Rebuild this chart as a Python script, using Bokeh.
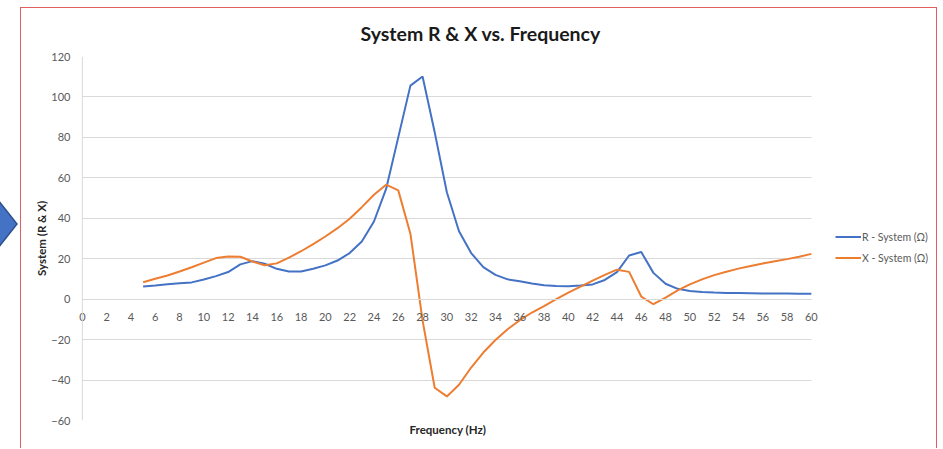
from bokeh.plotting import figure
from bokeh.models import (Range1d, FixedTicker, Legend, LegendItem, Title, Span,
                          Div, Grid, Row)
from bokeh.embed import file_html
from bokeh.resources import INLINE

# ---- data ----
freq = [5, 6, 7, 8, 9, 10, 11, 12, 13, 14, 15, 16, 17, 18, 19, 20, 21, 22, 23, 24,
        25, 26, 27, 28, 29, 30, 31, 32, 33, 34, 35, 36, 37, 38, 39, 40, 41, 42, 43, 44,
        45, 46, 47, 48, 49, 50, 51, 52, 53, 54, 55, 56, 57, 58, 59, 60]
r_system = [6.3, 6.8, 7.4, 7.9, 8.3, 9.7, 11.4, 13.4, 17.2, 18.8, 17.5, 15.0, 13.7, 13.7,
            15.0, 16.7, 19.1, 22.8, 28.5, 38.4, 54.5, 80.0, 105.6, 110.1, 82.5, 52.9,
            33.6, 22.8, 15.8, 12.0, 9.8, 8.9, 7.7, 6.9, 6.5, 6.4, 6.7, 7.3, 9.5, 13.4,
            21.6, 23.3, 13.0, 7.6, 5.1, 4.0, 3.6, 3.3, 3.1, 3.0, 2.9, 2.8, 2.8, 2.8, 2.7, 2.7]
x_system = [8.4, 10.1, 11.7, 13.7, 15.8, 18.1, 20.3, 21.1, 21.0, 18.6, 16.8, 17.7, 20.5,
            23.7, 27.2, 31.0, 35.1, 39.8, 45.5, 51.6, 56.6, 53.8, 32.4, -10.5, -43.8,
            -48.1, -42.3, -33.8, -26.4, -20.2, -14.9, -10.4, -6.6, -3.4, 0.0, 3.2, 6.2,
            9.2, 12.0, 14.6, 13.5, 1.3, -2.5, 0.8, 4.3, 7.3, 9.8, 11.9, 13.6, 15.1, 16.4,
            17.6, 18.7, 19.8, 21.0, 22.4]
x_ticks = [0, 2, 4, 6, 8, 10, 12, 14, 16, 18, 20, 22, 24, 26, 28, 30, 32, 34, 36, 38,
           40, 42, 44, 46, 48, 50, 52, 54, 56, 58, 60]
y_ticks = [-60, -40, -20, 0, 20, 40, 60, 80, 100, 120]
x_min, x_max = 0, 60
y_min, y_max = -60, 120
series_names = ["R - System (\u03a9)", "X - System (\u03a9)"]
series_colors = ["#4472C4", "#ED7D31"]

FONT = "Lato"
TXT = "#595959"
GRID = "#d9d9d9"
RED = "#e06060"

# frame is widened to the right so the legend (drawn inside the frame) is not clipped;
# grid and axis are bounded to the data range 0..60
has_cross = "cross_bounds" in Grid.properties()
PX_PER_UNIT = 12.15
frame_w = 861
pad_left = 0.4
x_lo = x_min - pad_left
x_hi = x_lo + frame_w / PX_PER_UNIT

p = figure(width=917, height=441, output_backend="svg", toolbar_location=None,
           x_range=Range1d(x_lo, x_hi), y_range=Range1d(y_min, y_max),
           min_border_left=56, min_border_right=0, min_border_top=48,
           min_border_bottom=29)
p.title.text = "System R & X vs. Frequency"
p.title.align = "left"
p.title.vertical_align = "middle"
p.title.text_font = FONT
p.title.text_font_size = "19.5px"
p.title.text_font_style = "bold"
p.title.text_color = "#1a1a1a"
p.title.offset = 283
p.title.standoff = 22
p.outline_line_color = None
p.background_fill_color = "white"
p.border_fill_color = "white"
p.margin = (7, 0, 0, 0)
p.styles = {"border-left": f"1px solid {RED}", "border-top": f"1px solid {RED}",
            "border-right": f"1px solid {RED}"}

# horizontal grid lines over 0..60 only
p.xgrid.visible = False
if has_cross:
    p.ygrid.ticker = FixedTicker(ticks=y_ticks)
    p.ygrid.grid_line_color = GRID
    p.ygrid.grid_line_width = 1
    p.ygrid.cross_bounds = (x_min, x_max)
else:
    p.ygrid.visible = False
    p.segment(x0=[x_min] * len(y_ticks), x1=[x_max] * len(y_ticks), y0=y_ticks,
              y1=y_ticks, line_color=GRID, line_width=1)

# x axis crossing at y = 0
xa = p.xaxis[0]
xa.ticker = FixedTicker(ticks=x_ticks)
xa.fixed_location = 0
xa.bounds = (x_min, x_max)
xa.axis_line_color = GRID
xa.major_tick_line_color = None
xa.minor_tick_line_color = None
xa.major_label_text_font = FONT
xa.major_label_text_font_size = "11px"
xa.major_label_text_color = TXT
xa.major_label_standoff = 8

ya = p.yaxis[0]
ya.ticker = FixedTicker(ticks=y_ticks)
ya.axis_line_color = None
ya.major_tick_line_color = None
ya.minor_tick_line_color = None
ya.major_label_text_font = FONT
ya.major_label_text_font_size = "11px"
ya.major_label_text_color = TXT
ya.major_label_standoff = 1
ya.axis_label = "System (R & X)"
ya.axis_label_text_font = FONT
ya.axis_label_text_font_size = "11.5px"
ya.axis_label_text_font_style = "bold"
ya.axis_label_text_color = "#262626"
ya.axis_label_standoff = 0

# vertical axis line at x = 0
p.add_layout(Span(location=x_min, dimension="height", line_color=GRID, line_width=1))

r1 = p.line(freq, r_system, line_color=series_colors[0], line_width=2)
r2 = p.line(freq, x_system, line_color=series_colors[1], line_width=2)

legend = Legend(items=[LegendItem(label=series_names[0], renderers=[r1]),
                       LegendItem(label=series_names[1], renderers=[r2])],
                location=(758, 152), padding=0, spacing=0, margin=0,
                glyph_width=26, glyph_height=21, label_height=21,
                label_standoff=1, label_text_font=FONT,
                label_text_font_size="10.5px", label_text_color=TXT,
                border_line_color=None, background_fill_alpha=0)
p.add_layout(legend, "center")

p.add_layout(Title(text="Frequency (Hz)", align="left", offset=332, text_font=FONT,
                   text_font_size="11.5px", text_font_style="bold",
                   text_color="#262626", standoff=1), "below")

arrow = Div(width=20, height=449,
            text='<svg width="20" height="449" style="display:block">'
                 '<polygon points="-2,200 17,224 -2,248" fill="#4472C4" '
                 'stroke="#2F528F" stroke-width="1.5"/></svg>',
            styles={"margin": "0", "padding": "0"})

layout = Row(children=[arrow, p], spacing=0)

open("out.html", "w").write(file_html(layout, INLINE))
